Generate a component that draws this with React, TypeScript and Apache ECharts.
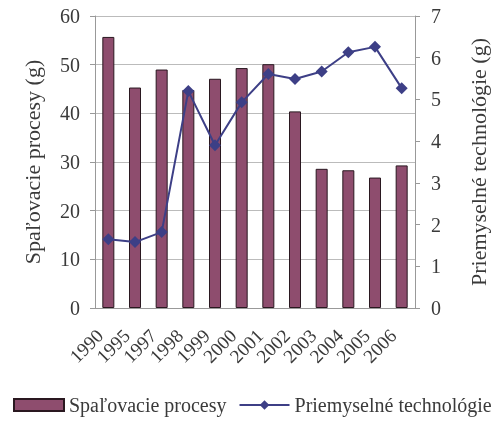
import React, { useEffect, useRef } from "react";
import * as echarts from "echarts";

const years = ["1990", "1995", "1997", "1998", "1999", "2000", "2001", "2002", "2003", "2004", "2005", "2006"];
const spalovacie = [55.7, 45.3, 49.0, 44.8, 47.1, 49.3, 50.1, 40.4, 28.6, 28.3, 26.8, 29.3];
const priemyselne = [1.65, 1.58, 1.82, 5.2, 3.9, 4.93, 5.61, 5.49, 5.67, 6.13, 6.26, 5.27];
const leftTicks = { min: 0, max: 60, interval: 10 };
const rightTicks = { min: 0, max: 7, interval: 1 };

const FONT = "Liberation Serif";
const TXT = "#3a3a3a";

export default function App() {
  const ref = useRef<HTMLDivElement>(null);
  useEffect(() => {
    if (!ref.current) return;
    const chart = echarts.init(ref.current, undefined, { renderer: "svg" });
    chart.setOption({
      animation: false,
      textStyle: { fontFamily: FONT, color: TXT },
      grid: { left: 95, right: 72, top: 16, bottom: 122, containLabel: false },
      legend: {
        bottom: 10,
        left: 8,
        itemWidth: 50,
        itemHeight: 12,
        itemGap: 12,
        textStyle: { fontFamily: FONT, fontSize: 20, color: TXT },
        data: [
          { name: "Spaľovacie procesy", icon: "rect" },
          { name: "Priemyselné technológie" },
        ],
      },
      xAxis: {
        type: "category",
        data: years,
        boundaryGap: true,
        axisLine: { lineStyle: { color: "#999" } },
        axisTick: { interval: 0, lineStyle: { color: "#999" } },
        axisLabel: {
          interval: 0,
          rotate: 45,
          fontSize: 19,
          color: TXT,
          fontFamily: FONT,
          margin: 16,
          padding: [0, 12, 0, 0],
        },
      },
      yAxis: [
        {
          type: "value",
          ...leftTicks,
          name: "Spaľovacie procesy (g)",
          nameLocation: "middle",
          nameGap: 52,
          nameTextStyle: { fontSize: 22, color: TXT, fontFamily: FONT },
          axisLine: { show: true, lineStyle: { color: "#999" } },
          axisTick: { show: true, lineStyle: { color: "#999" } },
          axisLabel: { fontSize: 20, color: TXT, fontFamily: FONT, margin: 15 },
          splitLine: { show: true, lineStyle: { color: "#bbb" } },
        },
        {
          type: "value",
          ...rightTicks,
          position: "right",
          name: "Priemyselné technológie (g)",
          nameLocation: "middle",
          nameGap: 52,
          nameRotate: 90,
          nameTextStyle: { fontSize: 22, color: TXT, fontFamily: FONT },
          axisLine: { show: true, lineStyle: { color: "#999" } },
          axisTick: { show: true, lineStyle: { color: "#999" } },
          axisLabel: { fontSize: 20, color: TXT, fontFamily: FONT, margin: 16 },
          splitLine: { show: false },
        },
      ],
      series: [
        {
          name: "Spaľovacie procesy",
          type: "bar",
          data: spalovacie,
          barWidth: 12,
          itemStyle: { color: "#8E4D6E", borderColor: "#2a1820", borderWidth: 1 },
        },
        {
          name: "Priemyselné technológie",
          type: "line",
          yAxisIndex: 1,
          data: priemyselne,
          symbol: "diamond",
          symbolSize: 12,
          lineStyle: { color: "#3D3F86", width: 2 },
          itemStyle: { color: "#3D3F86" },
        },
      ],
    });
    return () => chart.dispose();
  }, []);
  return <div ref={ref} style={{ position: "fixed", left: 0, top: 0, width: 497, height: 430 }} />;
}
